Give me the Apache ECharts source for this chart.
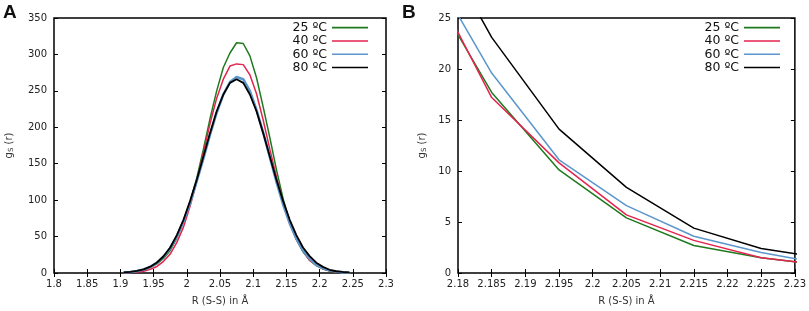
<!DOCTYPE html>
<html>
<head>
<meta charset="utf-8">
<script src="https://cdn.jsdelivr.net/npm/echarts@6/dist/echarts.min.js"></script>
<style>
  html, body { margin: 0; padding: 0; background: #fff; }
  #chart { width: 809px; height: 311px; }
</style>
</head>
<body>
<div id="chart"></div>
<script>
// R (S-S) in Å, bin centres
const r = [1.905, 1.915, 1.925, 1.935, 1.945, 1.955, 1.965, 1.975, 1.985, 1.995,
  2.005, 2.015, 2.025, 2.035, 2.045, 2.055, 2.065, 2.075, 2.085, 2.095,
  2.105, 2.115, 2.125, 2.135, 2.145, 2.155, 2.165, 2.175, 2.185, 2.195,
  2.205, 2.215, 2.225, 2.235, 2.245]

// gS(r) per temperature
const g25 = [0.6, 1.2, 2.3, 4.2, 7.5, 12.5, 20, 31, 48, 70,
  98, 130, 170, 212, 250, 282, 302, 316, 315, 298,
  268, 228, 186, 142, 102, 70, 46, 29, 17.7, 10.1,
  5.4, 2.7, 1.5, 0.7, 0.3]
const g40 = [0.3, 0.6, 1.2, 2.5, 5, 9, 16, 26, 42, 63,
  92, 126, 165, 205, 240, 266, 284, 287, 286, 272,
  246, 210, 170, 132, 97, 68, 46, 30, 17.2, 10.8,
  5.7, 3.2, 1.5, 0.7, 0.3]
const g60 = [0.7, 1.4, 2.7, 4.8, 8.4, 14, 22.5, 34, 50, 71,
  96, 126, 157, 190, 220, 245, 262, 269, 266, 250,
  224, 193, 159, 125, 94, 68, 47, 31, 19.6, 11.1,
  6.6, 3.6, 2.0, 0.8, 0.4]
const g80 = [0.8, 1.5, 2.8, 5.0, 8.7, 14.4, 23, 35, 52, 73,
  99, 128, 160, 192, 222, 245, 261, 266, 261, 245,
  222, 192, 160, 128, 99, 73, 52, 35, 23.1, 14.1,
  8.4, 4.4, 2.4, 1.4, 0.8]

const names = ['25 ºC', '40 ºC', '60 ºC', '80 ºC']
const values = [g25, g40, g60, g80]
const colors = ['#1f7a1f', '#e5234f', '#5b96cc', '#000000']
const widthA = [1.5, 1.5, 2.5, 1.8]

const font = 'DejaVu Sans'
const chart = echarts.init(document.getElementById('chart'), null, { renderer: 'canvas' })

function xAxisFor(grid, min, max, interval, main) {
  return {
    type: 'value', gridIndex: grid, min: min, max: max, interval: interval,
    position: main ? 'bottom' : 'top',
    axisLine: { show: false },
    axisTick: { show: true, inside: true, length: 4, lineStyle: { color: '#000', width: 1 } },
    axisLabel: { show: main, color: '#222', fontSize: 10, fontFamily: font, margin: 6 },
    splitLine: { show: false },
    name: main ? 'R (S-S) in Å' : '',
    nameLocation: 'middle', nameGap: 23,
    nameTextStyle: { color: '#333', fontSize: 10, fontFamily: font }
  }
}

function yAxisFor(grid, max, interval, main, gap) {
  return {
    type: 'value', gridIndex: grid, min: 0, max: max, interval: interval,
    position: main ? 'left' : 'right',
    axisLine: { show: false },
    axisTick: { show: true, inside: true, length: 4, lineStyle: { color: '#000', width: 1 } },
    axisLabel: { show: main, color: '#222', fontSize: 10, fontFamily: font, margin: 7 },
    splitLine: { show: false },
    name: main ? 'g{s|S} (r)' : '',
    nameLocation: 'middle', nameGap: gap,
    nameTextStyle: {
      color: '#333', fontSize: 10, fontFamily: font, lineHeight: 12,
      rich: { s: { fontSize: 7, lineHeight: 7, verticalAlign: 'bottom', color: '#333', fontFamily: font } }
    }
  }
}

const series = []
names.forEach((name, i) => {
  const pts = r.map((x, j) => [x, values[i][j]])
  series.push({
    name: name, type: 'line', xAxisIndex: 0, yAxisIndex: 0, data: pts,
    symbol: 'none', clip: true,
    lineStyle: { color: colors[i], width: widthA[i] }, itemStyle: { color: colors[i] }
  })
  series.push({
    name: name, type: 'line', xAxisIndex: 2, yAxisIndex: 2, data: pts,
    symbol: 'none', clip: true,
    lineStyle: { color: colors[i], width: 1.5 }, itemStyle: { color: colors[i] }
  })
})

function legendFor(right) {
  return {
    data: names, orient: 'vertical', align: 'right',
    right: right, top: 21, padding: 0, itemGap: 0,
    icon: 'rect', itemWidth: 36, itemHeight: 1.6,
    textStyle: { color: '#111', fontSize: 12.5, fontFamily: font, lineHeight: 13.3 }
  }
}

const option = {
  backgroundColor: '#fff',
  animation: false,
  title: [
    { text: 'A', left: 3, top: 3, padding: 0, textStyle: { fontSize: 19, fontWeight: 'bold', color: '#111', fontFamily: 'Liberation Sans' } },
    { text: 'B', left: 402, top: 3, padding: 0, textStyle: { fontSize: 19, fontWeight: 'bold', color: '#111', fontFamily: 'Liberation Sans' } }
  ],
  grid: [
    { left: 54, right: 423, top: 18, bottom: 34, show: true, borderColor: '#000', borderWidth: 1.5, backgroundColor: 'transparent' },
    { left: 458, right: 14, top: 18, bottom: 33, show: true, borderColor: '#000', borderWidth: 1.5, backgroundColor: 'transparent' }
  ],
  legend: [legendFor(441), legendFor(29)],
  xAxis: [
    xAxisFor(0, 1.8, 2.3, 0.05, true),
    xAxisFor(0, 1.8, 2.3, 0.05, false),
    xAxisFor(1, 2.18, 2.23, 0.005, true),
    xAxisFor(1, 2.18, 2.23, 0.005, false)
  ],
  yAxis: [
    yAxisFor(0, 350, 50, true, 39),
    yAxisFor(0, 350, 50, false, 0),
    yAxisFor(1, 25, 5, true, 30),
    yAxisFor(1, 25, 5, false, 0)
  ],
  series: series
}

chart.setOption(option)
</script>
</body>
</html>
